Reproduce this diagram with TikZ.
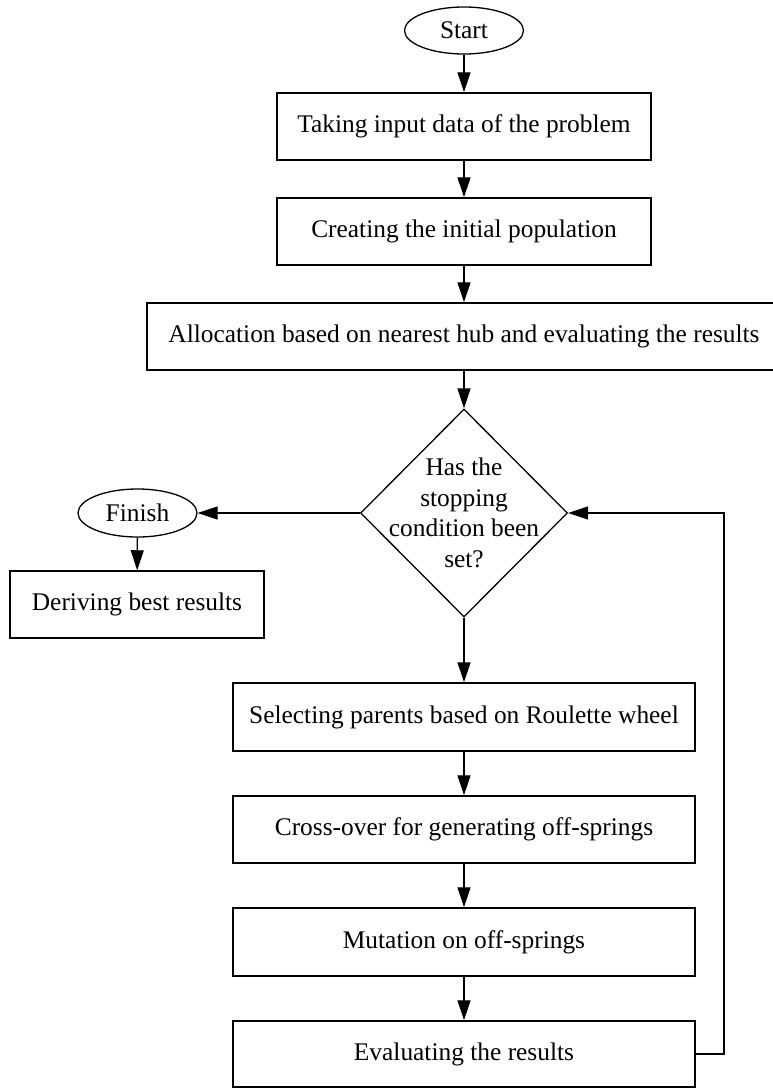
\documentclass[tikz,border=0pt]{standalone}
\usepackage{fontspec}
\setmainfont{Liberation Serif}
\usetikzlibrary{arrows.meta,shapes.geometric}
\tikzset{
  every node/.style={font=\fontsize{25.4pt}{30.5pt}\selectfont},
  procbox/.style={draw, line width=1.5pt, rectangle, minimum height=67pt, inner sep=0pt},
  termnode/.style={draw, line width=1.3pt, ellipse, minimum width=119pt, minimum height=47pt, inner sep=0pt},
  arr/.style={line width=1.3pt, -{Triangle[length=20pt,width=13pt]}}
}
\begin{document}
\begin{tikzpicture}[x=1pt,y=-1pt]
\useasboundingbox (0,0) rectangle (773,1088);
\node[termnode] (start) at (464,30.5) {Start};
\node[procbox, minimum width=374pt] (b1) at (464,126.5) {Taking input data of the problem};
\node[procbox, minimum width=374pt] (b2) at (464,231.5) {Creating the initial population};
\node[procbox, minimum width=634pt] (b3) at (464,336.5) {Allocation based on nearest hub and evaluating the results};
\node[draw, line width=1.3pt, diamond, minimum width=207pt, minimum height=208pt, inner sep=0pt] (cond) at (464,513) {};
\node[align=center, inner sep=0pt] (condtext) at (464,513) {Has the\\stopping\\condition been\\set?};
\node[termnode, minimum height=48pt] (finish) at (137.5,513) {Finish};
\node[procbox, minimum width=254pt] (derive) at (137,604.5) {Deriving best results};
\node[procbox, minimum width=462pt, minimum height=68pt] (b4) at (464,717) {Selecting parents based on Roulette wheel};
\node[procbox, minimum width=462pt] (b5) at (464,829.5) {Cross-over for generating off-springs};
\node[procbox, minimum width=462pt, minimum height=68pt] (b6) at (464,942) {Mutation on off-springs};
\node[procbox, minimum width=462pt, minimum height=66pt] (b7) at (464,1054) {Evaluating the results};
\coordinate (fb) at (724,1054);
\draw[arr] (start) -- (b1);
\draw[arr] (b1) -- (b2);
\draw[arr] (b2) -- (b3);
\draw[arr] (b3) -- (cond);
\draw[arr] (cond.west) -- (finish.east);
\draw[arr] (finish) -- (derive);
\draw[arr] (cond.south) -- (b4);
\draw[arr] (b4) -- (b5);
\draw[arr] (b5) -- (b6);
\draw[arr] (b6) -- (b7);
\draw[arr] (b7.east) -- (fb) |- (cond.east);
\end{tikzpicture}
\end{document}
